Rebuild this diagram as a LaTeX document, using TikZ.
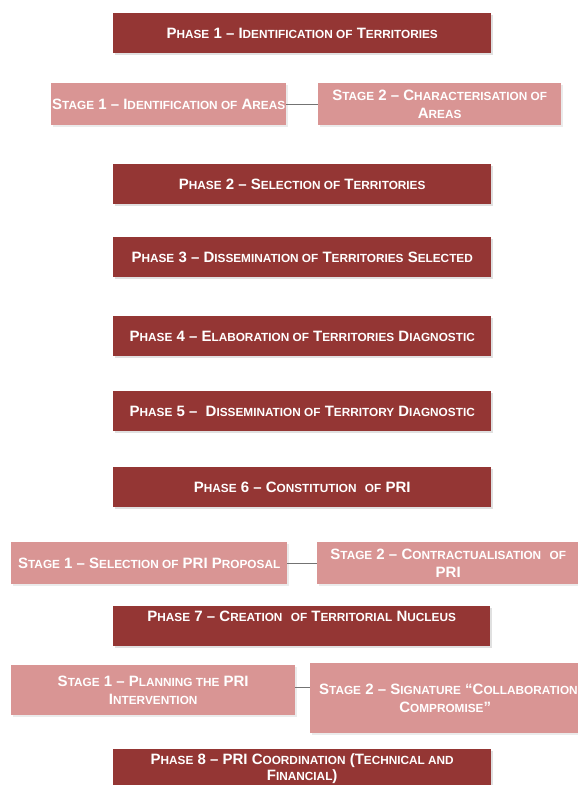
\documentclass[tikz,border=0pt]{standalone}
\usepackage{fontspec}
\setmainfont{Liberation Sans}
\usetikzlibrary{shadows}
\definecolor{phasered}{HTML}{943634}
\definecolor{stagepink}{HTML}{D99594}
\newcommand{\smc}[1]{{\fontsize{11.8}{17}\selectfont #1}}
\tikzset{
  boxfont/.style={font=\bfseries\fontsize{15}{17.5}\selectfont},
  phasebox/.style={fill=phasered,text=white,boxfont,
    anchor=north west,minimum width=378pt,minimum height=40pt,inner sep=0pt,align=center,
    drop shadow={shadow xshift=1.5pt,shadow yshift=-1.5pt,fill=black!12,opacity=1}},
  stagebox/.style={fill=stagepink,text=white,boxfont,
    anchor=north west,minimum height=42pt,inner sep=0pt,align=center,
    drop shadow={shadow xshift=1.5pt,shadow yshift=-1.5pt,fill=black!8,opacity=1}},
  link/.style={draw=black!55,line width=0.8pt}
}
\begin{document}
\begin{tikzpicture}[x=1pt,y=1pt]
\useasboundingbox (0,0) rectangle (578,-785);
% phases
\node[phasebox] (ph1) at (113,-13) {P\smc{HASE} 1 -- I\smc{DENTIFICATION OF} T\smc{ERRITORIES}};
\node[phasebox] (ph2) at (113,-164) {P\smc{HASE} 2 -- S\smc{ELECTION OF} T\smc{ERRITORIES}};
\node[phasebox] (ph3) at (113,-237) {P\smc{HASE} 3 -- D\smc{ISSEMINATION OF} T\smc{ERRITORIES} S\smc{ELECTED}};
\node[phasebox] (ph4) at (113,-316) {P\smc{HASE} 4 -- E\smc{LABORATION OF} T\smc{ERRITORIES} D\smc{IAGNOSTIC}};
\node[phasebox] (ph5) at (113,-391) {P\smc{HASE} 5 --\ \ D\smc{ISSEMINATION OF} T\smc{ERRITORY} D\smc{IAGNOSTIC}};
\node[phasebox] (ph6) at (113,-467) {P\smc{HASE} 6 -- C\smc{ONSTITUTION}\ \ \smc{OF} PRI};
\node[phasebox,minimum width=377pt] (ph7) at (113,-606) {};
\node[text=white,boxfont,inner sep=0pt,anchor=north] (ph7text) at ([yshift=-5pt]ph7.north) {P\smc{HASE} 7 -- C\smc{REATION}\ \ \smc{OF} T\smc{ERRITORIAL} N\smc{UCLEUS}};
\node[phasebox,minimum height=42pt] (ph8) at (113,-749) {};
\node[text=white,boxfont,inner sep=0pt,anchor=north,align=center] (ph8text) at ([yshift=-4pt]ph8.north) {P\smc{HASE} 8 -- PRI C\smc{OORDINATION} (T\smc{ECHNICAL AND}\\[-1pt]F\smc{INANCIAL})};
% stages
\node[stagebox,minimum width=235pt] (st11) at (51,-83) {S\smc{TAGE} 1 -- I\smc{DENTIFICATION OF} A\smc{REAS}};
\node[stagebox,minimum width=243pt] (st12) at (318,-83) {S\smc{TAGE} 2 -- C\smc{HARACTERISATION OF}\\A\smc{REAS}};
\node[stagebox,minimum width=276pt] (st21) at (11,-542) {S\smc{TAGE} 1 -- S\smc{ELECTION OF} PRI P\smc{ROPOSAL}};
\node[stagebox,minimum width=262pt] (st22) at (317,-542) {S\smc{TAGE} 2 -- C\smc{ONTRACTUALISATION}\ \ \smc{OF}\\PRI};
\node[stagebox,minimum width=284pt,minimum height=50pt] (st31) at (11,-665) {S\smc{TAGE} 1 -- P\smc{LANNING THE} PRI\\I\smc{NTERVENTION}};
\node[stagebox,minimum width=270pt,minimum height=70pt] (st32) at (310,-663) {\makebox[252pt][l]{S\smc{TAGE} 2 -- S\smc{IGNATURE} ``C\smc{OLLABORATION}}\\C\smc{OMPROMISE}''};
% links
\draw[link] (st11.east) -- (st11.east -| st12.west);
\draw[link] (st21.east) -- (st21.east -| st22.west);
\draw[link] ([yshift=3pt]st31.east) -- ([yshift=3pt]st31.east -| st32.west);
\end{tikzpicture}
\end{document}
